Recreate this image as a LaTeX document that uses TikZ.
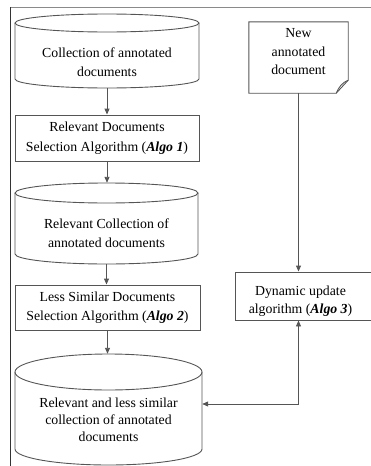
\documentclass[tikz,border=0pt]{standalone}
\usepackage{fontspec}
\setmainfont{Liberation Serif}
\usetikzlibrary{arrows.meta}
\definecolor{ln}{HTML}{555555}
\definecolor{framegray}{HTML}{8A8A8A}
\begin{document}
\begin{tikzpicture}[x=1pt,y=1pt,
  outline/.style={draw=ln, line width=0.9pt},
  txt/.style={font=\fontsize{13.8}{19.5}\selectfont, align=center, inner sep=0pt},
  boxnode/.style={outline, rectangle, inner sep=0pt},
  area/.style={rectangle, inner sep=0pt, draw=none},
  tip/.tip={Triangle[length=6pt,width=5pt]},
  flow/.style={draw=ln, line width=0.9pt, -tip},
]
\clip (0,0) rectangle (371,-466);

% page frame
\draw[draw=framegray, line width=0.9pt] (10,-7) -- (371,-7);
\draw[draw=black!80, line width=0.9pt] (10,-7) -- (10,-466);

% cylinder 1
\node[area, minimum width=184, minimum height=74] (c1) at (107,-51) {};
\draw[outline] (107,-23) ellipse [x radius=92, y radius=9];
\draw[outline] (15,-23) -- (15,-79) arc[start angle=180, end angle=360, x radius=92, y radius=9] -- (199,-23);
\node[txt] (c1t) at (107,-62) {Collection of annotated\\documents};

% algorithm 1
\node[boxnode, txt, minimum width=184, minimum height=46] (b1) at (107,-138)
  {Relevant Documents\\Selection Algorithm (\textbf{\textit{Algo 1}})};

% cylinder 2
\node[area, minimum width=183, minimum height=81] (c2) at (106.5,-223.5) {};
\draw[outline] (106.5,-193) ellipse [x radius=91.5, y radius=10];
\draw[outline] (15,-193) -- (15,-254) arc[start angle=180, end angle=360, x radius=91.5, y radius=10] -- (198,-193);
\node[txt] (c2t) at (106.5,-233) {Relevant Collection of\\annotated documents};

% algorithm 2
\node[boxnode, txt, minimum width=185, minimum height=45] (b2) at (107.5,-307.5)
  {Less Similar Documents\\Selection Algorithm (\textbf{\textit{Algo 2}})};

% cylinder 3
\node[area, minimum width=187, minimum height=111] (c3) at (108.5,-409.5) {};
\draw[outline] (108.5,-372) ellipse [x radius=93.5, y radius=18];
\draw[outline] (15,-372) -- (15,-449) arc[start angle=180, end angle=360, x radius=93.5, y radius=16] -- (202,-372);
\node[txt, font=\fontsize{13.8}{17}\selectfont] (c3t) at (108.5,-420)
  {Relevant and less similar\\collection of annotated\\documents};

% new document (note with folded corner)
\node[area, minimum width=99, minimum height=71] (nd) at (298.5,-57.5) {};
\draw[outline] (nd.north west) -- (nd.north east) -- ([yshift=13]nd.south east)
  -- ([xshift=-12]nd.south east) -- (nd.south west) -- cycle;
\draw[outline] ([yshift=13]nd.south east) .. controls +(-6,-2) and +(2,5) .. ([xshift=-12]nd.south east);
\node[txt, font=\fontsize{13.8}{18.5}\selectfont] (ndt) at (298.5,-52) {New\\annotated\\document};

% algorithm 3
\node[boxnode, minimum width=145, minimum height=48] (a3) at (307.5,-296) {};
\node[txt, font=\fontsize{13.8}{18}\selectfont] (a3t) at (300.5,-301)
  {Dynamic update\\algorithm (\textbf{\textit{Algo 3}})};

% connectors
\draw[flow] (c1.south) -- (b1.north);
\draw[flow] (b1.south) -- (b1.south |- c2.north);
\draw[flow] (c2.south) -- (c2.south |- b2.north);
\draw[flow] (b2.south) -- (b2.south |- c3.north);
\draw[flow] (nd.south) -- (nd.south |- a3.north);
\coordinate (j) at (298.5,-404);
\draw[flow, tip-tip] (a3.south -| j) -- (j) -- (j -| c3.east);
\end{tikzpicture}
\end{document}
